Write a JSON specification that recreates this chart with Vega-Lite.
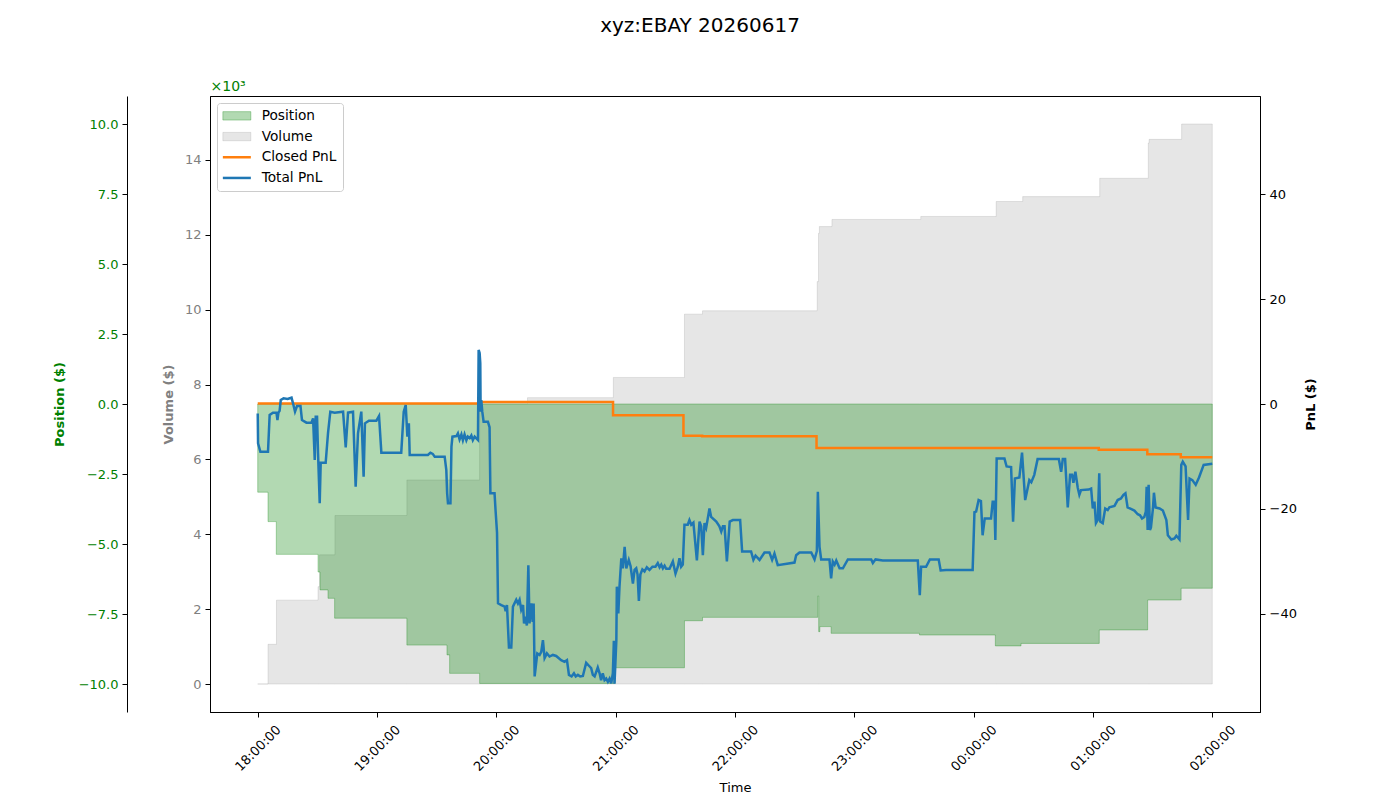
{
  "$schema": "https://vega.github.io/schema/vega-lite/v6.json",
  "width": 1050,
  "height": 616,
  "autosize": {"type": "none"},
  "padding": {"left": 210, "top": 96, "right": 140, "bottom": 88},
  "background": "white",
  "title": {"text": "xyz:EBAY 20260617", "fontSize": 20, "fontWeight": "normal", "font": "DejaVu Sans", "color": "black", "anchor": "middle", "frame": "group", "dx": -35, "offset": 27, "baseline": "alphabetic"},
  "config": {
    "font": "DejaVu Sans",
    "view": {"stroke": "black", "strokeWidth": 1},
    "axis": {"grid": false, "domainColor": "black", "tickColor": "black", "labelFontSize": 13, "titleFontSize": 13, "labelFont": "DejaVu Sans", "titleFont": "DejaVu Sans", "tickSize": 5, "labelPadding": 4, "labelColor": "black", "titleColor": "black"}
  },
  "datasets": {
    "volume": [
      {"t": "2026-06-17T18:00:00", "v": 0},
      {"t": "2026-06-17T18:05:10", "v": 1060},
      {"t": "2026-06-17T18:09:25", "v": 2240},
      {"t": "2026-06-17T18:30:20", "v": 2600},
      {"t": "2026-06-17T18:31:05", "v": 3450},
      {"t": "2026-06-17T18:38:50", "v": 4500},
      {"t": "2026-06-17T19:15:00", "v": 5450},
      {"t": "2026-06-17T19:51:35", "v": 7490},
      {"t": "2026-06-17T20:15:40", "v": 7650},
      {"t": "2026-06-17T20:58:50", "v": 8190},
      {"t": "2026-06-17T21:34:35", "v": 9880},
      {"t": "2026-06-17T21:43:40", "v": 9970},
      {"t": "2026-06-17T22:41:20", "v": 10750},
      {"t": "2026-06-17T22:42:00", "v": 12040},
      {"t": "2026-06-17T22:42:25", "v": 12220},
      {"t": "2026-06-17T22:48:45", "v": 12410},
      {"t": "2026-06-17T23:33:25", "v": 12490},
      {"t": "2026-06-18T00:11:20", "v": 12890},
      {"t": "2026-06-18T00:24:40", "v": 13020},
      {"t": "2026-06-18T01:03:25", "v": 13510},
      {"t": "2026-06-18T01:27:50", "v": 14450},
      {"t": "2026-06-18T01:28:15", "v": 14550},
      {"t": "2026-06-18T01:44:35", "v": 14960},
      {"t": "2026-06-18T02:00:00", "v": 14960}
    ],
    "position": [
      {"t": "2026-06-17T18:00:00", "v": -3150},
      {"t": "2026-06-17T18:05:10", "v": -4200},
      {"t": "2026-06-17T18:09:20", "v": -5370},
      {"t": "2026-06-17T18:30:20", "v": -6000},
      {"t": "2026-06-17T18:31:20", "v": -6640},
      {"t": "2026-06-17T18:35:20", "v": -6940},
      {"t": "2026-06-17T18:38:40", "v": -7650},
      {"t": "2026-06-17T19:15:00", "v": -8610},
      {"t": "2026-06-17T19:35:10", "v": -8960},
      {"t": "2026-06-17T19:36:30", "v": -9620},
      {"t": "2026-06-17T19:51:35", "v": -9980},
      {"t": "2026-06-17T20:59:40", "v": -9420},
      {"t": "2026-06-17T21:34:35", "v": -7740},
      {"t": "2026-06-17T21:43:40", "v": -7620},
      {"t": "2026-06-17T22:41:35", "v": -6860},
      {"t": "2026-06-17T22:42:05", "v": -8130},
      {"t": "2026-06-17T22:42:40", "v": -7950},
      {"t": "2026-06-17T22:48:20", "v": -8190},
      {"t": "2026-06-17T23:32:45", "v": -8250},
      {"t": "2026-06-18T00:10:55", "v": -8640},
      {"t": "2026-06-18T00:23:50", "v": -8550},
      {"t": "2026-06-18T01:03:10", "v": -8070},
      {"t": "2026-06-18T01:27:30", "v": -7000},
      {"t": "2026-06-18T01:44:20", "v": -6580},
      {"t": "2026-06-18T02:00:00", "v": -6580}
    ],
    "closed": [
      {"t": "2026-06-17T18:00:00", "v": 0.1},
      {"t": "2026-06-17T19:51:35", "v": 0.4},
      {"t": "2026-06-17T20:58:40", "v": -2.16},
      {"t": "2026-06-17T21:34:05", "v": -6.03},
      {"t": "2026-06-17T21:43:30", "v": -6.16},
      {"t": "2026-06-17T22:41:00", "v": -8.4},
      {"t": "2026-06-18T01:02:55", "v": -8.7},
      {"t": "2026-06-18T01:27:20", "v": -9.59},
      {"t": "2026-06-18T01:44:10", "v": -10.16},
      {"t": "2026-06-18T02:00:00", "v": -10.16}
    ],
    "total": [
      {"t": "2026-06-17T18:00:00", "v": -1.8},
      {"t": "2026-06-17T18:00:10", "v": -7.5},
      {"t": "2026-06-17T18:01:20", "v": -9.1},
      {"t": "2026-06-17T18:05:10", "v": -9.1},
      {"t": "2026-06-17T18:06:00", "v": -2.1},
      {"t": "2026-06-17T18:07:40", "v": -1.65},
      {"t": "2026-06-17T18:09:25", "v": -1.65},
      {"t": "2026-06-17T18:09:55", "v": -3.05},
      {"t": "2026-06-17T18:10:25", "v": -1.65},
      {"t": "2026-06-17T18:11:00", "v": -1.3},
      {"t": "2026-06-17T18:11:35", "v": 0.76},
      {"t": "2026-06-17T18:13:00", "v": 1.08},
      {"t": "2026-06-17T18:15:00", "v": 0.95},
      {"t": "2026-06-17T18:17:00", "v": 1.2},
      {"t": "2026-06-17T18:17:45", "v": 0.13},
      {"t": "2026-06-17T18:18:45", "v": -1.46},
      {"t": "2026-06-17T18:19:45", "v": -0.38},
      {"t": "2026-06-17T18:21:30", "v": -0.38},
      {"t": "2026-06-17T18:22:15", "v": -3.05},
      {"t": "2026-06-17T18:24:30", "v": -3.56},
      {"t": "2026-06-17T18:27:00", "v": -3.56},
      {"t": "2026-06-17T18:27:50", "v": -2.73},
      {"t": "2026-06-17T18:28:40", "v": -10.67},
      {"t": "2026-06-17T18:29:10", "v": -2.41},
      {"t": "2026-06-17T18:29:50", "v": -2.41},
      {"t": "2026-06-17T18:30:20", "v": -9.4},
      {"t": "2026-06-17T18:31:10", "v": -18.9},
      {"t": "2026-06-17T18:31:40", "v": -11.2},
      {"t": "2026-06-17T18:34:10", "v": -11.2},
      {"t": "2026-06-17T18:35:20", "v": -5.59},
      {"t": "2026-06-17T18:36:30", "v": -1.46},
      {"t": "2026-06-17T18:38:40", "v": -1.65},
      {"t": "2026-06-17T18:42:55", "v": -1.46},
      {"t": "2026-06-17T18:44:15", "v": -8.25},
      {"t": "2026-06-17T18:45:25", "v": -1.65},
      {"t": "2026-06-17T18:47:55", "v": -1.46},
      {"t": "2026-06-17T18:49:15", "v": -15.75},
      {"t": "2026-06-17T18:50:25", "v": -5.59},
      {"t": "2026-06-17T18:52:05", "v": -1.46},
      {"t": "2026-06-17T18:53:15", "v": -13.84},
      {"t": "2026-06-17T18:53:55", "v": -3.68},
      {"t": "2026-06-17T18:55:55", "v": -3.17},
      {"t": "2026-06-17T18:59:40", "v": -3.17},
      {"t": "2026-06-17T19:01:00", "v": -2.29},
      {"t": "2026-06-17T19:02:10", "v": -9.27},
      {"t": "2026-06-17T19:12:10", "v": -9.27},
      {"t": "2026-06-17T19:13:25", "v": -1.46},
      {"t": "2026-06-17T19:14:25", "v": -0.19},
      {"t": "2026-06-17T19:15:15", "v": -6.22},
      {"t": "2026-06-17T19:16:00", "v": -3.68},
      {"t": "2026-06-17T19:16:25", "v": -9.71},
      {"t": "2026-06-17T19:25:35", "v": -9.71},
      {"t": "2026-06-17T19:26:50", "v": -9.27},
      {"t": "2026-06-17T19:28:00", "v": -9.5},
      {"t": "2026-06-17T19:29:00", "v": -10.03},
      {"t": "2026-06-17T19:34:00", "v": -10.03},
      {"t": "2026-06-17T19:34:50", "v": -12.57},
      {"t": "2026-06-17T19:35:15", "v": -17.0},
      {"t": "2026-06-17T19:35:40", "v": -18.9},
      {"t": "2026-06-17T19:36:55", "v": -18.9},
      {"t": "2026-06-17T19:37:25", "v": -8.13},
      {"t": "2026-06-17T19:37:55", "v": -6.22},
      {"t": "2026-06-17T19:39:55", "v": -6.1},
      {"t": "2026-06-17T19:40:40", "v": -5.59},
      {"t": "2026-06-17T19:41:30", "v": -6.73},
      {"t": "2026-06-17T19:42:25", "v": -5.8},
      {"t": "2026-06-17T19:43:10", "v": -6.9},
      {"t": "2026-06-17T19:44:00", "v": -5.8},
      {"t": "2026-06-17T19:44:55", "v": -6.9},
      {"t": "2026-06-17T19:45:40", "v": -6.2},
      {"t": "2026-06-17T19:46:35", "v": -6.5},
      {"t": "2026-06-17T19:47:25", "v": -6.0},
      {"t": "2026-06-17T19:48:10", "v": -6.9},
      {"t": "2026-06-17T19:49:05", "v": -6.2},
      {"t": "2026-06-17T19:50:45", "v": -6.86},
      {"t": "2026-06-17T19:51:05", "v": 10.29},
      {"t": "2026-06-17T19:51:35", "v": 9.7},
      {"t": "2026-06-17T19:51:55", "v": 7.75},
      {"t": "2026-06-17T19:52:05", "v": -1.46},
      {"t": "2026-06-17T19:52:25", "v": 0.76},
      {"t": "2026-06-17T19:52:55", "v": -1.46},
      {"t": "2026-06-17T19:53:35", "v": -3.37},
      {"t": "2026-06-17T19:55:45", "v": -3.37},
      {"t": "2026-06-17T19:56:35", "v": -4.44},
      {"t": "2026-06-17T19:57:00", "v": -17.0},
      {"t": "2026-06-17T19:59:05", "v": -17.0},
      {"t": "2026-06-17T19:59:35", "v": -20.2},
      {"t": "2026-06-17T20:00:20", "v": -24.5},
      {"t": "2026-06-17T20:00:50", "v": -37.97},
      {"t": "2026-06-17T20:02:30", "v": -38.3},
      {"t": "2026-06-17T20:04:10", "v": -38.6},
      {"t": "2026-06-17T20:04:40", "v": -39.5},
      {"t": "2026-06-17T20:05:20", "v": -38.3},
      {"t": "2026-06-17T20:06:20", "v": -46.4},
      {"t": "2026-06-17T20:07:30", "v": -46.4},
      {"t": "2026-06-17T20:08:20", "v": -38.6},
      {"t": "2026-06-17T20:10:00", "v": -37.3},
      {"t": "2026-06-17T20:10:50", "v": -38.0},
      {"t": "2026-06-17T20:11:40", "v": -37.3},
      {"t": "2026-06-17T20:12:30", "v": -39.2},
      {"t": "2026-06-17T20:13:25", "v": -38.3},
      {"t": "2026-06-17T20:13:55", "v": -41.8},
      {"t": "2026-06-17T20:14:40", "v": -40.5},
      {"t": "2026-06-17T20:15:20", "v": -42.2},
      {"t": "2026-06-17T20:16:05", "v": -30.7},
      {"t": "2026-06-17T20:16:40", "v": -41.8},
      {"t": "2026-06-17T20:17:35", "v": -37.97},
      {"t": "2026-06-17T20:18:15", "v": -41.5},
      {"t": "2026-06-17T20:18:45", "v": -38.0},
      {"t": "2026-06-17T20:19:15", "v": -51.9},
      {"t": "2026-06-17T20:20:35", "v": -47.5},
      {"t": "2026-06-17T20:21:45", "v": -47.8},
      {"t": "2026-06-17T20:22:35", "v": -47.2},
      {"t": "2026-06-17T20:23:25", "v": -45.0},
      {"t": "2026-06-17T20:24:15", "v": -48.4},
      {"t": "2026-06-17T20:25:25", "v": -47.5},
      {"t": "2026-06-17T20:26:45", "v": -48.1},
      {"t": "2026-06-17T20:28:25", "v": -47.8},
      {"t": "2026-06-17T20:30:05", "v": -48.0},
      {"t": "2026-06-17T20:32:35", "v": -48.8},
      {"t": "2026-06-17T20:34:15", "v": -49.1},
      {"t": "2026-06-17T20:35:30", "v": -48.8},
      {"t": "2026-06-17T20:36:30", "v": -51.6},
      {"t": "2026-06-17T20:37:50", "v": -51.9},
      {"t": "2026-06-17T20:39:00", "v": -51.3},
      {"t": "2026-06-17T20:39:55", "v": -51.9},
      {"t": "2026-06-17T20:41:00", "v": -51.6},
      {"t": "2026-06-17T20:42:10", "v": -51.9},
      {"t": "2026-06-17T20:43:30", "v": -51.8},
      {"t": "2026-06-17T20:45:10", "v": -49.3},
      {"t": "2026-06-17T20:46:55", "v": -50.0},
      {"t": "2026-06-17T20:47:40", "v": -50.3},
      {"t": "2026-06-17T20:48:30", "v": -51.6},
      {"t": "2026-06-17T20:49:25", "v": -51.9},
      {"t": "2026-06-17T20:51:00", "v": -50.2},
      {"t": "2026-06-17T20:51:55", "v": -51.3},
      {"t": "2026-06-17T20:52:40", "v": -52.6},
      {"t": "2026-06-17T20:53:30", "v": -51.3},
      {"t": "2026-06-17T20:54:25", "v": -52.6},
      {"t": "2026-06-17T20:55:15", "v": -52.3},
      {"t": "2026-06-17T20:56:05", "v": -52.9},
      {"t": "2026-06-17T20:56:55", "v": -52.3},
      {"t": "2026-06-17T20:57:45", "v": -53.2},
      {"t": "2026-06-17T20:58:35", "v": -51.3},
      {"t": "2026-06-17T20:59:05", "v": -45.1},
      {"t": "2026-06-17T20:59:25", "v": -53.3},
      {"t": "2026-06-17T21:00:20", "v": -45.0},
      {"t": "2026-06-17T21:00:35", "v": -34.8},
      {"t": "2026-06-17T21:01:20", "v": -39.9},
      {"t": "2026-06-17T21:01:55", "v": -34.8},
      {"t": "2026-06-17T21:02:50", "v": -29.4},
      {"t": "2026-06-17T21:03:35", "v": -31.3},
      {"t": "2026-06-17T21:04:30", "v": -27.2},
      {"t": "2026-06-17T21:05:20", "v": -31.3},
      {"t": "2026-06-17T21:06:35", "v": -29.7},
      {"t": "2026-06-17T21:07:30", "v": -30.9},
      {"t": "2026-06-17T21:08:40", "v": -34.2},
      {"t": "2026-06-17T21:09:30", "v": -31.6},
      {"t": "2026-06-17T21:10:20", "v": -31.3},
      {"t": "2026-06-17T21:11:00", "v": -32.5},
      {"t": "2026-06-17T21:11:40", "v": -37.5},
      {"t": "2026-06-17T21:12:25", "v": -32.5},
      {"t": "2026-06-17T21:13:25", "v": -31.5},
      {"t": "2026-06-17T21:14:30", "v": -31.9},
      {"t": "2026-06-17T21:15:40", "v": -31.1},
      {"t": "2026-06-17T21:17:00", "v": -31.6},
      {"t": "2026-06-17T21:18:30", "v": -31.0},
      {"t": "2026-06-17T21:20:00", "v": -31.0},
      {"t": "2026-06-17T21:21:10", "v": -30.3},
      {"t": "2026-06-17T21:22:05", "v": -31.1},
      {"t": "2026-06-17T21:22:55", "v": -30.6},
      {"t": "2026-06-17T21:23:45", "v": -31.3},
      {"t": "2026-06-17T21:24:35", "v": -30.8},
      {"t": "2026-06-17T21:25:25", "v": -31.4},
      {"t": "2026-06-17T21:27:05", "v": -31.4},
      {"t": "2026-06-17T21:28:45", "v": -30.0},
      {"t": "2026-06-17T21:30:05", "v": -32.3},
      {"t": "2026-06-17T21:31:15", "v": -31.0},
      {"t": "2026-06-17T21:32:05", "v": -29.4},
      {"t": "2026-06-17T21:32:55", "v": -31.0},
      {"t": "2026-06-17T21:33:45", "v": -30.6},
      {"t": "2026-06-17T21:34:35", "v": -23.0},
      {"t": "2026-06-17T21:36:15", "v": -23.0},
      {"t": "2026-06-17T21:37:05", "v": -22.1},
      {"t": "2026-06-17T21:38:00", "v": -23.0},
      {"t": "2026-06-17T21:39:05", "v": -22.6},
      {"t": "2026-06-17T21:40:50", "v": -29.8},
      {"t": "2026-06-17T21:42:10", "v": -22.4},
      {"t": "2026-06-17T21:43:00", "v": -23.3},
      {"t": "2026-06-17T21:43:50", "v": -28.8},
      {"t": "2026-06-17T21:44:40", "v": -22.7},
      {"t": "2026-06-17T21:45:30", "v": -23.6},
      {"t": "2026-06-17T21:47:10", "v": -19.9},
      {"t": "2026-06-17T21:48:00", "v": -21.5},
      {"t": "2026-06-17T21:50:35", "v": -22.4},
      {"t": "2026-06-17T21:52:10", "v": -23.3},
      {"t": "2026-06-17T21:53:05", "v": -24.3},
      {"t": "2026-06-17T21:53:55", "v": -23.3},
      {"t": "2026-06-17T21:54:45", "v": -23.3},
      {"t": "2026-06-17T21:55:55", "v": -30.0},
      {"t": "2026-06-17T21:57:20", "v": -22.4},
      {"t": "2026-06-17T21:58:55", "v": -22.1},
      {"t": "2026-06-17T22:02:35", "v": -22.1},
      {"t": "2026-06-17T22:03:35", "v": -28.1},
      {"t": "2026-06-17T22:08:05", "v": -28.1},
      {"t": "2026-06-17T22:09:15", "v": -29.7},
      {"t": "2026-06-17T22:10:20", "v": -28.9},
      {"t": "2026-06-17T22:12:20", "v": -29.7},
      {"t": "2026-06-17T22:14:50", "v": -28.3},
      {"t": "2026-06-17T22:17:20", "v": -28.3},
      {"t": "2026-06-17T22:18:40", "v": -29.7},
      {"t": "2026-06-17T22:19:50", "v": -28.5},
      {"t": "2026-06-17T22:21:30", "v": -30.7},
      {"t": "2026-06-17T22:29:55", "v": -30.2},
      {"t": "2026-06-17T22:30:45", "v": -28.8},
      {"t": "2026-06-17T22:32:25", "v": -28.3},
      {"t": "2026-06-17T22:38:20", "v": -28.3},
      {"t": "2026-06-17T22:40:00", "v": -29.6},
      {"t": "2026-06-17T22:41:10", "v": -28.0},
      {"t": "2026-06-17T22:41:40", "v": -16.7},
      {"t": "2026-06-17T22:42:30", "v": -27.2},
      {"t": "2026-06-17T22:43:20", "v": -29.6},
      {"t": "2026-06-17T22:47:30", "v": -29.6},
      {"t": "2026-06-17T22:48:20", "v": -33.2},
      {"t": "2026-06-17T22:49:10", "v": -30.0},
      {"t": "2026-06-17T22:50:05", "v": -30.6},
      {"t": "2026-06-17T22:50:55", "v": -29.8},
      {"t": "2026-06-17T22:52:35", "v": -31.3},
      {"t": "2026-06-17T22:54:15", "v": -31.3},
      {"t": "2026-06-17T22:56:45", "v": -29.6},
      {"t": "2026-06-17T23:08:30", "v": -29.6},
      {"t": "2026-06-17T23:09:20", "v": -30.3},
      {"t": "2026-06-17T23:10:40", "v": -29.6},
      {"t": "2026-06-17T23:14:20", "v": -29.8},
      {"t": "2026-06-17T23:31:55", "v": -29.8},
      {"t": "2026-06-17T23:32:55", "v": -36.4},
      {"t": "2026-06-17T23:33:35", "v": -31.0},
      {"t": "2026-06-17T23:36:05", "v": -31.0},
      {"t": "2026-06-17T23:38:00", "v": -29.6},
      {"t": "2026-06-17T23:42:25", "v": -29.6},
      {"t": "2026-06-17T23:43:25", "v": -31.7},
      {"t": "2026-06-17T23:46:05", "v": -31.6},
      {"t": "2026-06-17T23:59:30", "v": -31.6},
      {"t": "2026-06-18T00:00:25", "v": -20.6},
      {"t": "2026-06-18T00:01:15", "v": -20.5},
      {"t": "2026-06-18T00:02:30", "v": -18.3},
      {"t": "2026-06-18T00:03:40", "v": -18.5},
      {"t": "2026-06-18T00:04:30", "v": -25.0},
      {"t": "2026-06-18T00:05:35", "v": -21.8},
      {"t": "2026-06-18T00:08:45", "v": -21.8},
      {"t": "2026-06-18T00:09:35", "v": -18.6},
      {"t": "2026-06-18T00:10:25", "v": -18.6},
      {"t": "2026-06-18T00:10:55", "v": -25.9},
      {"t": "2026-06-18T00:11:35", "v": -10.4},
      {"t": "2026-06-18T00:15:30", "v": -10.4},
      {"t": "2026-06-18T00:16:35", "v": -11.9},
      {"t": "2026-06-18T00:18:50", "v": -12.0},
      {"t": "2026-06-18T00:19:50", "v": -22.4},
      {"t": "2026-06-18T00:20:45", "v": -14.2},
      {"t": "2026-06-18T00:23:00", "v": -14.0},
      {"t": "2026-06-18T00:24:20", "v": -9.27},
      {"t": "2026-06-18T00:25:55", "v": -18.3},
      {"t": "2026-06-18T00:28:00", "v": -14.5},
      {"t": "2026-06-18T00:29:00", "v": -14.9},
      {"t": "2026-06-18T00:30:30", "v": -13.5},
      {"t": "2026-06-18T00:32:10", "v": -10.5},
      {"t": "2026-06-18T00:42:50", "v": -10.5},
      {"t": "2026-06-18T00:44:00", "v": -12.9},
      {"t": "2026-06-18T00:44:50", "v": -10.5},
      {"t": "2026-06-18T00:46:00", "v": -10.5},
      {"t": "2026-06-18T00:47:20", "v": -19.7},
      {"t": "2026-06-18T00:48:30", "v": -13.5},
      {"t": "2026-06-18T00:49:30", "v": -13.5},
      {"t": "2026-06-18T00:50:10", "v": -15.0},
      {"t": "2026-06-18T00:51:10", "v": -12.9},
      {"t": "2026-06-18T00:52:20", "v": -15.9},
      {"t": "2026-06-18T00:53:10", "v": -17.3},
      {"t": "2026-06-18T00:54:00", "v": -16.4},
      {"t": "2026-06-18T00:57:50", "v": -16.3},
      {"t": "2026-06-18T00:59:05", "v": -16.1},
      {"t": "2026-06-18T00:59:55", "v": -19.9},
      {"t": "2026-06-18T01:00:45", "v": -18.6},
      {"t": "2026-06-18T01:01:30", "v": -22.7},
      {"t": "2026-06-18T01:02:25", "v": -22.1},
      {"t": "2026-06-18T01:03:10", "v": -13.2},
      {"t": "2026-06-18T01:03:40", "v": -22.4},
      {"t": "2026-06-18T01:04:55", "v": -22.7},
      {"t": "2026-06-18T01:06:10", "v": -19.9},
      {"t": "2026-06-18T01:07:25", "v": -20.2},
      {"t": "2026-06-18T01:08:15", "v": -19.7},
      {"t": "2026-06-18T01:10:50", "v": -19.4},
      {"t": "2026-06-18T01:12:25", "v": -18.3},
      {"t": "2026-06-18T01:14:05", "v": -18.0},
      {"t": "2026-06-18T01:15:20", "v": -17.3},
      {"t": "2026-06-18T01:16:20", "v": -17.0},
      {"t": "2026-06-18T01:17:25", "v": -19.7},
      {"t": "2026-06-18T01:19:05", "v": -20.0},
      {"t": "2026-06-18T01:20:50", "v": -20.3},
      {"t": "2026-06-18T01:22:30", "v": -21.0},
      {"t": "2026-06-18T01:23:40", "v": -21.2},
      {"t": "2026-06-18T01:24:40", "v": -21.8},
      {"t": "2026-06-18T01:25:50", "v": -21.5},
      {"t": "2026-06-18T01:26:35", "v": -20.5},
      {"t": "2026-06-18T01:27:00", "v": -15.75},
      {"t": "2026-06-18T01:27:30", "v": -24.0},
      {"t": "2026-06-18T01:28:00", "v": -15.4},
      {"t": "2026-06-18T01:28:40", "v": -24.0},
      {"t": "2026-06-18T01:29:10", "v": -23.5},
      {"t": "2026-06-18T01:30:10", "v": -19.9},
      {"t": "2026-06-18T01:30:40", "v": -16.9},
      {"t": "2026-06-18T01:31:30", "v": -19.7},
      {"t": "2026-06-18T01:33:30", "v": -19.9},
      {"t": "2026-06-18T01:35:10", "v": -20.3},
      {"t": "2026-06-18T01:36:55", "v": -22.1},
      {"t": "2026-06-18T01:37:40", "v": -25.0},
      {"t": "2026-06-18T01:39:25", "v": -25.8},
      {"t": "2026-06-18T01:41:00", "v": -25.6},
      {"t": "2026-06-18T01:41:55", "v": -25.1},
      {"t": "2026-06-18T01:43:30", "v": -25.8},
      {"t": "2026-06-18T01:44:25", "v": -11.6},
      {"t": "2026-06-18T01:45:10", "v": -11.0},
      {"t": "2026-06-18T01:46:35", "v": -11.9},
      {"t": "2026-06-18T01:47:50", "v": -22.1},
      {"t": "2026-06-18T01:48:35", "v": -14.2},
      {"t": "2026-06-18T01:50:00", "v": -14.5},
      {"t": "2026-06-18T01:51:40", "v": -15.4},
      {"t": "2026-06-18T01:53:20", "v": -14.0},
      {"t": "2026-06-18T01:55:40", "v": -11.6},
      {"t": "2026-06-18T02:00:00", "v": -11.4}
    ]
  },
  "layer": [
    {
      "data": {"name": "volume"},
      "mark": {"type": "area", "interpolate": "step-after", "fillOpacity": 0.2, "stroke": "gray", "strokeOpacity": 0.2, "strokeWidth": 1},
      "encoding": {
        "x": {"field": "t", "type": "temporal",
          "scale": {"domain": [{"year": 2026, "month": 6, "date": 17, "hours": 17, "minutes": 36}, {"year": 2026, "month": 6, "date": 18, "hours": 2, "minutes": 24}]},
          "axis": {"orient": "bottom", "title": "Time", "titleFontWeight": "normal", "format": "%H:%M:%S", "labelAngle": -45, "labelAlign": "center", "labelBaseline": "middle", "labelPadding": 31, "titlePadding": 8,
            "values": [
              {"year": 2026, "month": 6, "date": 17, "hours": 18},
              {"year": 2026, "month": 6, "date": 17, "hours": 19},
              {"year": 2026, "month": 6, "date": 17, "hours": 20},
              {"year": 2026, "month": 6, "date": 17, "hours": 21},
              {"year": 2026, "month": 6, "date": 17, "hours": 22},
              {"year": 2026, "month": 6, "date": 17, "hours": 23},
              {"year": 2026, "month": 6, "date": 18, "hours": 0},
              {"year": 2026, "month": 6, "date": 18, "hours": 1},
              {"year": 2026, "month": 6, "date": 18, "hours": 2}
            ]}},
        "y": {"field": "v", "type": "quantitative", "stack": null,
          "scale": {"domain": [-748, 15708], "nice": false, "zero": false},
          "axis": {"orient": "left", "offset": 0, "values": [0, 2000, 4000, 6000, 8000, 10000, 12000, 14000], "labelExpr": "format(datum.value / 1000, 'd')", "labelColor": "gray", "title": "Volume ($)", "titleColor": "gray", "titleFontWeight": "bold", "titlePadding": 9}},
        "color": {"datum": "Volume", "type": "nominal",
          "scale": {"domain": ["Position", "Volume", "Closed PnL", "Total PnL"], "range": ["green", "gray", "#ff7f0e", "#1f77b4"]},
          "legend": {"title": null, "orient": "top-left", "offset": 7, "padding": 6, "fillColor": "white", "strokeColor": "#cccccc", "cornerRadius": 3, "labelFontSize": 13.7, "labelColor": "black", "rowPadding": 5.7, "symbolSize": 196, "labelOffset": 25,
            "encode": {"symbols": {"update": {
              "shape": {"signal": "datum.value == 'Position' || datum.value == 'Volume' ? 'M-1,-0.6H3V0.6H-1Z' : 'M-1,0H3'"},
              "fill": {"signal": "datum.value == 'Position' ? 'green' : datum.value == 'Volume' ? 'gray' : 'transparent'"},
              "stroke": {"signal": "datum.value == 'Position' ? 'green' : datum.value == 'Volume' ? 'gray' : datum.value == 'Closed PnL' ? '#ff7f0e' : '#1f77b4'"},
              "strokeWidth": {"signal": "datum.value == 'Position' || datum.value == 'Volume' ? 1 : 2.5"},
              "opacity": {"value": 1},
              "fillOpacity": {"signal": "datum.value == 'Position' ? 0.3 : datum.value == 'Volume' ? 0.2 : 0"},
              "strokeOpacity": {"signal": "datum.value == 'Position' ? 0.3 : datum.value == 'Volume' ? 0.2 : 1"},
              "size": {"value": 196}
            }}}}}
      }
    },
    {
      "data": {"name": "position"},
      "mark": {"type": "area", "interpolate": "step-after", "fillOpacity": 0.3, "stroke": "green", "strokeOpacity": 0.3, "strokeWidth": 1},
      "encoding": {
        "x": {"field": "t", "type": "temporal",
          "scale": {"domain": [{"year": 2026, "month": 6, "date": 17, "hours": 17, "minutes": 36}, {"year": 2026, "month": 6, "date": 18, "hours": 2, "minutes": 24}]},
          "axis": {"orient": "top", "labels": false, "ticks": false, "domain": false, "title": "×10³", "titleColor": "green", "titleFontWeight": "normal", "titleFontSize": 14, "titleAnchor": "start", "titlePadding": 3}},
        "y": {"field": "v", "type": "quantitative", "stack": null,
          "scale": {"domain": [-11000, 11000], "nice": false, "zero": false},
          "axis": {"orient": "left", "offset": 83, "values": [-10000, -7500, -5000, -2500, 0, 2500, 5000, 7500, 10000], "labelExpr": "format(datum.value / 1000, '.1f')", "labelColor": "green", "title": "Position ($)", "titleColor": "green", "titleFontWeight": "bold", "titlePadding": 12}},
        "color": {"datum": "Position", "type": "nominal",
          "legend": {"title": null, "orient": "top-left", "offset": 7, "padding": 6, "fillColor": "white", "strokeColor": "#cccccc", "cornerRadius": 3, "labelFontSize": 13.7, "labelColor": "black", "rowPadding": 5.7, "symbolSize": 196, "labelOffset": 25,
            "encode": {"symbols": {"update": {
              "shape": {"signal": "datum.value == 'Position' || datum.value == 'Volume' ? 'M-1,-0.6H3V0.6H-1Z' : 'M-1,0H3'"},
              "fill": {"signal": "datum.value == 'Position' ? 'green' : datum.value == 'Volume' ? 'gray' : 'transparent'"},
              "stroke": {"signal": "datum.value == 'Position' ? 'green' : datum.value == 'Volume' ? 'gray' : datum.value == 'Closed PnL' ? '#ff7f0e' : '#1f77b4'"},
              "strokeWidth": {"signal": "datum.value == 'Position' || datum.value == 'Volume' ? 1 : 2.5"},
              "opacity": {"value": 1},
              "fillOpacity": {"signal": "datum.value == 'Position' ? 0.3 : datum.value == 'Volume' ? 0.2 : 0"},
              "strokeOpacity": {"signal": "datum.value == 'Position' ? 0.3 : datum.value == 'Volume' ? 0.2 : 1"},
              "size": {"value": 196}
            }}}}}
      }
    },
    {
      "layer": [
        {
          "data": {"name": "closed"},
          "mark": {"type": "line", "interpolate": "step-after", "strokeWidth": 2.5},
          "encoding": {
            "x": {"field": "t", "type": "temporal", "axis": null,
              "scale": {"domain": [{"year": 2026, "month": 6, "date": 17, "hours": 17, "minutes": 36}, {"year": 2026, "month": 6, "date": 18, "hours": 2, "minutes": 24}]}},
            "y": {"field": "v", "type": "quantitative",
              "scale": {"domain": [-58.67, 58.67], "nice": false, "zero": false},
              "axis": {"orient": "right", "values": [-40, -20, 0, 20, 40], "format": "d", "title": "PnL ($)", "titleFontWeight": "bold", "titleAngle": 270, "titlePadding": 21}},
            "color": {"datum": "Closed PnL", "type": "nominal",
              "legend": {"title": null, "orient": "top-left", "offset": 7, "padding": 6, "fillColor": "white", "strokeColor": "#cccccc", "cornerRadius": 3, "labelFontSize": 13.7, "labelColor": "black", "rowPadding": 5.7, "symbolSize": 196, "labelOffset": 25,
                "encode": {"symbols": {"update": {
                  "shape": {"signal": "datum.value == 'Position' || datum.value == 'Volume' ? 'M-1,-0.6H3V0.6H-1Z' : 'M-1,0H3'"},
                  "fill": {"signal": "datum.value == 'Position' ? 'green' : datum.value == 'Volume' ? 'gray' : 'transparent'"},
                  "stroke": {"signal": "datum.value == 'Position' ? 'green' : datum.value == 'Volume' ? 'gray' : datum.value == 'Closed PnL' ? '#ff7f0e' : '#1f77b4'"},
                  "strokeWidth": {"signal": "datum.value == 'Position' || datum.value == 'Volume' ? 1 : 2.5"},
                  "opacity": {"value": 1},
                  "fillOpacity": {"signal": "datum.value == 'Position' ? 0.3 : datum.value == 'Volume' ? 0.2 : 0"},
                  "strokeOpacity": {"signal": "datum.value == 'Position' ? 0.3 : datum.value == 'Volume' ? 0.2 : 1"},
                  "size": {"value": 196}
                }}}}}
          }
        },
        {
          "data": {"name": "total"},
          "mark": {"type": "line", "strokeWidth": 2.5},
          "encoding": {
            "x": {"field": "t", "type": "temporal", "axis": null,
              "scale": {"domain": [{"year": 2026, "month": 6, "date": 17, "hours": 17, "minutes": 36}, {"year": 2026, "month": 6, "date": 18, "hours": 2, "minutes": 24}]}},
            "y": {"field": "v", "type": "quantitative",
              "scale": {"domain": [-58.67, 58.67], "nice": false, "zero": false},
              "axis": {"orient": "right", "values": [-40, -20, 0, 20, 40], "format": "d", "title": "PnL ($)", "titleFontWeight": "bold", "titleAngle": 270, "titlePadding": 21}},
            "color": {"datum": "Total PnL", "type": "nominal",
              "legend": {"title": null, "orient": "top-left", "offset": 7, "padding": 6, "fillColor": "white", "strokeColor": "#cccccc", "cornerRadius": 3, "labelFontSize": 13.7, "labelColor": "black", "rowPadding": 5.7, "symbolSize": 196, "labelOffset": 25,
                "encode": {"symbols": {"update": {
                  "shape": {"signal": "datum.value == 'Position' || datum.value == 'Volume' ? 'M-1,-0.6H3V0.6H-1Z' : 'M-1,0H3'"},
                  "fill": {"signal": "datum.value == 'Position' ? 'green' : datum.value == 'Volume' ? 'gray' : 'transparent'"},
                  "stroke": {"signal": "datum.value == 'Position' ? 'green' : datum.value == 'Volume' ? 'gray' : datum.value == 'Closed PnL' ? '#ff7f0e' : '#1f77b4'"},
                  "strokeWidth": {"signal": "datum.value == 'Position' || datum.value == 'Volume' ? 1 : 2.5"},
                  "opacity": {"value": 1},
                  "fillOpacity": {"signal": "datum.value == 'Position' ? 0.3 : datum.value == 'Volume' ? 0.2 : 0"},
                  "strokeOpacity": {"signal": "datum.value == 'Position' ? 0.3 : datum.value == 'Volume' ? 0.2 : 1"},
                  "size": {"value": 196}
                }}}}}
          }
        }
      ]
    }
  ],
  "resolve": {"scale": {"y": "independent"}, "axis": {"x": "independent"}}
}
